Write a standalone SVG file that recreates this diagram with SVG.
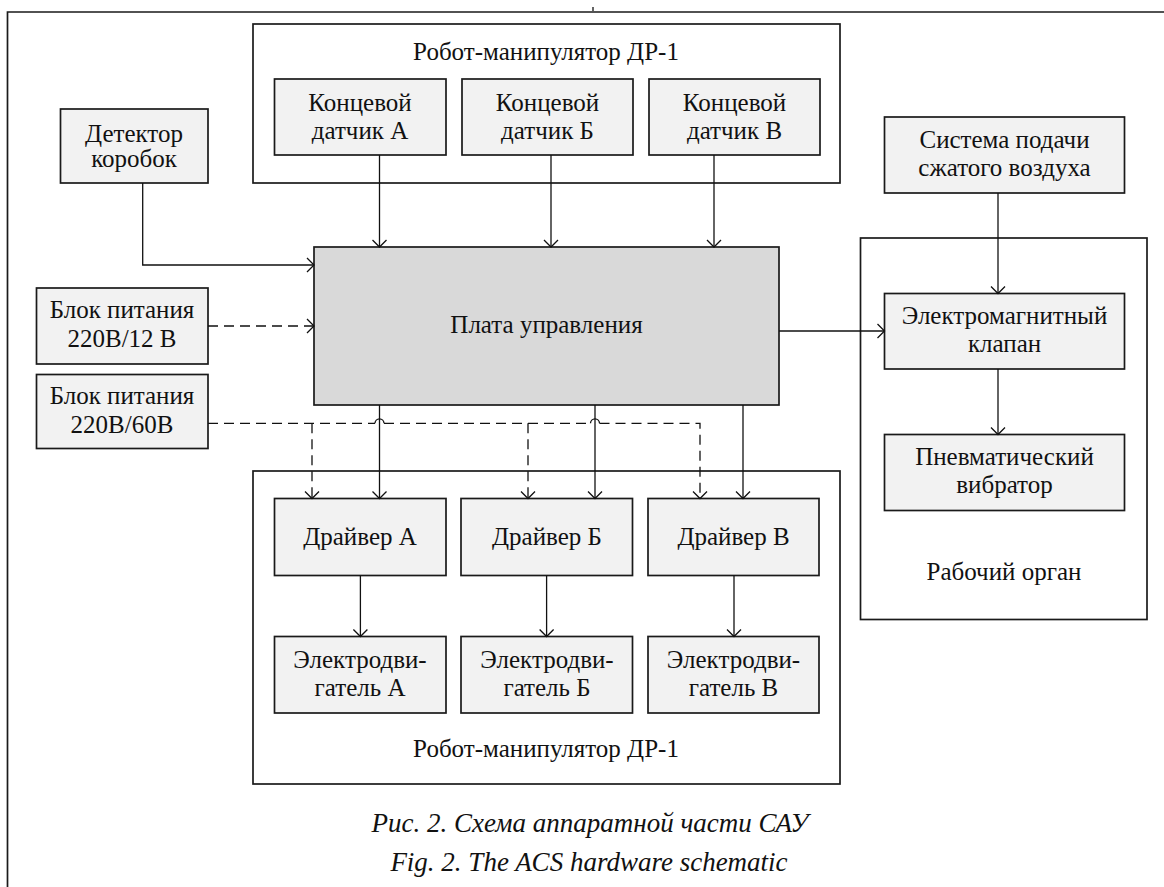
<svg xmlns="http://www.w3.org/2000/svg" width="1164" height="887" viewBox="0 0 1164 887">
<defs>
<style>
.box{fill:#f2f2f2;stroke:#1a1a1a;stroke-width:1.7}
.main{fill:#d9d9d9;stroke:#1a1a1a;stroke-width:1.7}
.grp{fill:none;stroke:#1a1a1a;stroke-width:1.7}
.ln{fill:none;stroke:#111;stroke-width:1.3}
.ar{marker-end:url(#arr)}
.ds{stroke-dasharray:10 6}
text{font-family:"Liberation Serif","Times New Roman",serif;font-size:25px;fill:#111;text-anchor:middle}
.cap{font-style:italic;font-size:27px}
</style>
<marker id="arr" markerUnits="userSpaceOnUse" markerWidth="10" markerHeight="16" viewBox="0 0 10 16" refX="9" refY="8" orient="auto">
<path d="M2,1 L9,8 L2,15" fill="none" stroke="#111" stroke-width="1.3"/>
</marker>
</defs>
<rect width="1164" height="887" fill="#ffffff"/>
<g id="frame">
<path d="M7.5,887 V12 H1164" class="grp"/>
<path d="M593,7 V11" class="ln"/>
</g>
<g id="robot-top">
<rect x="253" y="24" width="587" height="159" class="grp"/>
<text x="546" y="60">Робот-манипулятор ДР-1</text>
</g>
<g id="sensor-a">
<rect x="274.5" y="79" width="171.5" height="76" class="box"/>
<text x="360" y="110.5">Концевой</text>
<text x="360" y="139">датчик А</text>
</g>
<g id="sensor-b">
<rect x="462" y="79" width="171" height="76" class="box"/>
<text x="547.5" y="110.5">Концевой</text>
<text x="547.5" y="139">датчик Б</text>
</g>
<g id="sensor-v">
<rect x="649" y="79" width="171" height="76" class="box"/>
<text x="734.5" y="110.5">Концевой</text>
<text x="734.5" y="139">датчик В</text>
</g>
<g id="detector">
<rect x="60.5" y="109" width="147.5" height="74" class="box"/>
<text x="134" y="141.5">Детектор</text>
<text x="134" y="167">коробок</text>
</g>
<g id="board">
<rect x="314" y="247" width="465" height="158" class="main"/>
<text x="546.5" y="333">Плата управления</text>
</g>
<g id="psu12">
<rect x="36.5" y="288" width="171.5" height="76" class="box"/>
<text x="122" y="318">Блок питания</text>
<text x="122" y="346.5">220В/12 В</text>
</g>
<g id="psu60">
<rect x="36.5" y="374.5" width="171.5" height="74" class="box"/>
<text x="122" y="404">Блок питания</text>
<text x="122" y="432.5">220В/60В</text>
</g>
<g id="air">
<rect x="884.5" y="117" width="240" height="76" class="box"/>
<text x="1004.5" y="148">Система подачи</text>
<text x="1004.5" y="176">сжатого воздуха</text>
</g>
<g id="work-organ">
<rect x="860.5" y="238" width="286.5" height="381.5" class="grp"/>
<text x="1004" y="580">Рабочий орган</text>
</g>
<g id="valve">
<rect x="884.5" y="293.5" width="240" height="75.5" class="box"/>
<text x="1004.5" y="323.5">Электромагнитный</text>
<text x="1004.5" y="352">клапан</text>
</g>
<g id="vibrator">
<rect x="884.5" y="434.5" width="240" height="76" class="box"/>
<text x="1004.5" y="465">Пневматический</text>
<text x="1004.5" y="493">вибратор</text>
</g>
<g id="robot-bottom">
<rect x="253" y="471" width="587" height="313" class="grp"/>
<text x="546" y="757">Робот-манипулятор ДР-1</text>
</g>
<g id="driver-a">
<rect x="274.5" y="498.5" width="171.5" height="77" class="box"/>
<text x="360" y="545">Драйвер А</text>
</g>
<g id="driver-b">
<rect x="461" y="498.5" width="171.5" height="77" class="box"/>
<text x="547" y="545">Драйвер Б</text>
</g>
<g id="driver-v">
<rect x="648" y="498.5" width="171" height="77" class="box"/>
<text x="733.5" y="545">Драйвер В</text>
</g>
<g id="motor-a">
<rect x="274.5" y="636.5" width="171.5" height="76.5" class="box"/>
<text x="360" y="668">Электродви-</text>
<text x="360" y="696">гатель А</text>
</g>
<g id="motor-b">
<rect x="461" y="636.5" width="171.5" height="76.5" class="box"/>
<text x="547" y="668">Электродви-</text>
<text x="547" y="696">гатель Б</text>
</g>
<g id="motor-v">
<rect x="648" y="636.5" width="171" height="76.5" class="box"/>
<text x="733.5" y="668">Электродви-</text>
<text x="733.5" y="696">гатель В</text>
</g>
<g id="connectors">
<path d="M379.5,155 V247" class="ln ar"/>
<path d="M551,155 V247" class="ln ar"/>
<path d="M714,155 V247" class="ln ar"/>
<path d="M142.7,183 V265 H314" class="ln ar"/>
<path d="M208,326 H314" class="ln ds ar"/>
<path d="M779,331 H884.5" class="ln ar"/>
<path d="M998,193 V293.5" class="ln ar"/>
<path d="M998,369 V434.5" class="ln ar"/>
<path d="M379.5,405 V498.5" class="ln ar"/>
<path d="M595,405 V498.5" class="ln ar"/>
<path d="M743,405 V498.5" class="ln ar"/>
<path d="M208,423.3 H375" class="ln ds"/>
<path d="M375,423.3 a4.5,4.5 0 0 1 9,0" class="ln"/>
<path d="M384,423.3 H590.5" class="ln ds"/>
<path d="M590.5,423.3 a4.5,4.5 0 0 1 9,0" class="ln"/>
<path d="M599.5,423.3 H700 V498.5" class="ln ds ar"/>
<path d="M312,423.3 V498.5" class="ln ds ar"/>
<path d="M528,423.3 V498.5" class="ln ds ar"/>
<path d="M360.4,575.5 V636.5" class="ln ar"/>
<path d="M546.6,575.5 V636.5" class="ln ar"/>
<path d="M734,575.5 V636.5" class="ln ar"/>
</g>
<g id="caption">
<text x="590" y="832" class="cap">Рис. 2. Схема аппаратной части САУ</text>
<text x="589" y="871" class="cap">Fig. 2. The ACS hardware schematic</text>
</g>
</svg>
